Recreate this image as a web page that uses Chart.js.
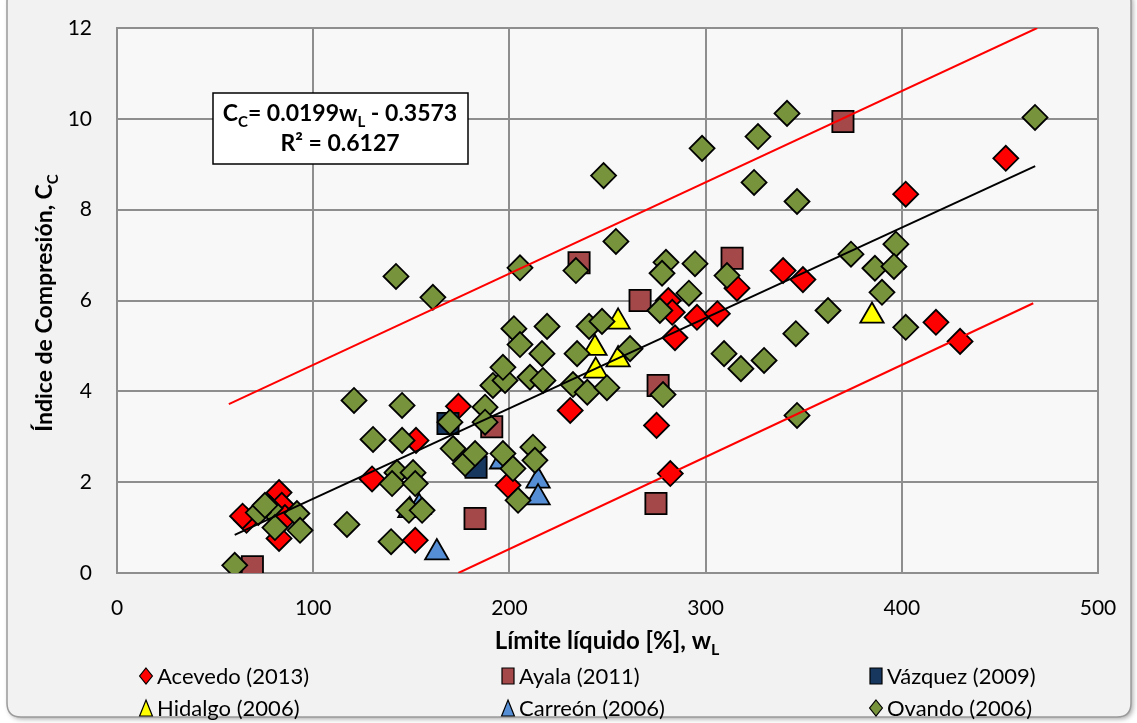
<!DOCTYPE html>
<html>
<head>
<meta charset="utf-8">
<script src="https://cdn.jsdelivr.net/npm/chart.js@4.4.1/dist/chart.umd.min.js"></script>
<style>
html,body{margin:0;padding:0;background:#ffffff;}
#wrap{width:1137px;height:723px;position:relative;}
</style>
</head>
<body>
<div id="wrap"><canvas id="c" width="1137" height="723"></canvas></div>
<script>
// ---------- DATA ----------
const xTicks = [0, 100, 200, 300, 400, 500];
const yTicks = [0, 2, 4, 6, 8, 10, 12];

const acevedoX = [66, 64, 82.6, 84, 85.6, 82.6, 130, 152.4, 152, 174, 199.3, 231, 275, 282, 281, 283, 284.4, 295.6, 306, 316, 339.5, 349.6, 402, 453, 417.4, 429.7];
const acevedoY = [1.16, 1.25, 1.77, 1.49, 1.22, 0.76, 2.07, 2.92, 0.72, 3.67, 1.93, 3.58, 3.25, 2.19, 6.0, 5.74, 5.18, 5.63, 5.71, 6.27, 6.66, 6.46, 8.34, 9.13, 5.52, 5.10];

const ayalaX = [69, 182.5, 191, 235.5, 266.6, 275.8, 274.7, 313.5, 370];
const ayalaY = [0.14, 1.2, 3.22, 6.83, 6.0, 4.13, 1.53, 6.93, 9.94];

const vazquezX = [168.7, 183];
const vazquezY = [3.29, 2.33];

const hidalgoX = [255.4, 243.6, 255.4, 244, 384.8];
const hidalgoY = [5.53, 4.95, 4.7, 4.45, 5.66];

const carreonX = [149.3, 154, 163, 196, 214.6, 214.6];
const carreonY = [1.38, 1.45, 0.45, 2.45, 2.03, 1.66];

const ovandoX = [60, 78, 72, 75.4, 80.5, 91.7, 93.3, 117.2, 120.8, 130.5, 142.2, 145.3, 145.3, 161, 142.7, 150.9, 140.2, 152, 139.7, 148.8, 155.5, 169.7, 171.3, 177.4, 182.5, 187.6, 187.6, 196.7, 201.8, 204.4, 212, 213, 191.6, 197.8, 196.7, 210.5, 217.1, 205.4, 233.9, 254.3, 248, 202.3, 219.2, 205.4, 216.6, 240.6, 247.2, 234.5, 261.5, 232.4, 239.7, 249.7, 279.8, 277.8, 294.6, 291.5, 276.7, 310.9, 346, 309.4, 318, 329.8, 278.3, 346.6, 341.5, 326.7, 298.2, 324.7, 346.6, 467.9, 374.1, 397, 386.3, 396, 389.9, 362.4, 402];
const ovandoY = [0.17, 1.42, 1.33, 1.49, 1.0, 1.31, 0.94, 1.07, 3.8, 2.94, 6.53, 3.69, 2.92, 6.07, 2.21, 2.21, 1.97, 1.97, 0.69, 1.38, 1.38, 3.32, 2.74, 2.41, 2.63, 3.65, 3.32, 2.63, 2.3, 1.6, 2.77, 2.48, 4.13, 4.24, 4.53, 4.31, 4.24, 6.72, 6.66, 7.3, 8.75, 5.38, 5.43, 5.03, 4.83, 5.43, 5.54, 4.83, 4.94, 4.15, 3.98, 4.08, 6.84, 6.6, 6.81, 6.16, 5.78, 6.55, 5.27, 4.83, 4.5, 4.68, 3.93, 3.47, 10.12, 9.61, 9.35, 8.6, 8.18, 10.03, 7.02, 7.24, 6.71, 6.75, 6.18, 5.78, 5.41];

// trend line and band (endpoints)
const trendX = [60, 468];
const trendY = [0.84, 8.96];
const upperX = [57, 469];
const upperY = [3.72, 12.0];
const lowerX = [174, 467];
const lowerY = [0.0, 5.94];

const seriesNames = ['Acevedo (2013)', 'Ayala (2011)', 'Vázquez (2009)', 'Hidalgo (2006)', 'Carreón (2006)', 'Ovando (2006)'];

const eqLine1 = ['C', 'C', '= 0.0199w', 'L', ' - 0.3573'];
const eqLine2 = 'R² = 0.6127';
const xTitle = ['Límite líquido [%], w', 'L'];
const yTitle = ['Índice de Compresión, C', 'C'];

// ---------- BUILD ----------
function pts(xs, ys) { return xs.map((x, i) => ({ x: x, y: ys[i] })); }

const FONT = 'Lato, "Open Sans", sans-serif';

const styles = [
  { style: 'rectRot', color: '#ff0000', r: 12.5 },
  { style: 'rect', color: '#a5484a', r: 15 },
  { style: 'rect', color: '#17375e', r: 15 },
  { style: 'triangle', color: '#ffff00', r: 13.5 },
  { style: 'triangle', color: '#558ed5', r: 13.5 },
  { style: 'rectRot', color: '#77933c', r: 12.5 }
];
const seriesData = [
  pts(acevedoX, acevedoY), pts(ayalaX, ayalaY), pts(vazquezX, vazquezY),
  pts(hidalgoX, hidalgoY), pts(carreonX, carreonY), pts(ovandoX, ovandoY)
];

const datasets = [];
function lineDs(xs, ys, color, w) {
  return { type: 'line', data: pts(xs, ys), borderColor: color, borderWidth: w, pointRadius: 0,
    fill: false, showLine: true, order: 0, tension: 0 };
}
datasets.push(lineDs(trendX, trendY, '#000000', 2));
datasets.push(lineDs(upperX, upperY, '#ff0000', 2));
datasets.push(lineDs(lowerX, lowerY, '#ff0000', 2));
seriesNames.forEach((name, i) => {
  datasets.push({
    label: name,
    data: seriesData[i],
    pointStyle: styles[i].style,
    pointRadius: styles[i].r,
    pointHoverRadius: styles[i].r,
    backgroundColor: styles[i].color,
    borderColor: '#000000',
    pointBorderWidth: 1.8,
    order: 6 - i
  });
});

function drawParts(ctx, parts, x, y, size, bold) {
  const nf = (bold ? 'bold ' : '') + size + 'px ' + FONT;
  const sf = (bold ? 'bold ' : '') + Math.round(size * 0.65) + 'px ' + FONT;
  let total = 0;
  parts.forEach((p, i) => { ctx.font = (i % 2 === 1) ? sf : nf; total += ctx.measureText(p).width; });
  let cx = x - total / 2;
  ctx.textBaseline = 'alphabetic';
  ctx.textAlign = 'left';
  parts.forEach((p, i) => {
    const sub = i % 2 === 1;
    ctx.font = sub ? sf : nf;
    ctx.fillText(p, cx, y + (sub ? size * 0.25 : 0));
    cx += ctx.measureText(p).width;
  });
}

function drawMarker(ctx, style, x, y, s, color) {
  ctx.save();
  ctx.fillStyle = color; ctx.strokeStyle = '#000'; ctx.lineWidth = 1.2;
  ctx.beginPath();
  if (style === 'rectRot') {
    ctx.moveTo(x, y - s); ctx.lineTo(x + s * 0.8, y); ctx.lineTo(x, y + s); ctx.lineTo(x - s * 0.8, y); ctx.closePath();
  } else if (style === 'rect') {
    ctx.rect(x - s * 0.75, y - s, s * 1.5, s * 2);
  } else {
    ctx.moveTo(x, y - s); ctx.lineTo(x + s * 0.8, y + s); ctx.lineTo(x - s * 0.8, y + s); ctx.closePath();
  }
  ctx.fill(); ctx.stroke();
  ctx.restore();
}

const decor = {
  id: 'decor',
  beforeDraw(chart) {
    const ctx = chart.ctx;
    ctx.save();
    ctx.fillStyle = '#ffffff';
    ctx.fillRect(0, 0, chart.width, chart.height);
    const x0 = 7, y0 = -12, x1 = 1131, y1 = 717, rr = 14;
    ctx.shadowColor = 'rgba(0,0,0,0.35)';
    ctx.shadowBlur = 5; ctx.shadowOffsetX = 2; ctx.shadowOffsetY = 2;
    ctx.beginPath();
    ctx.moveTo(x0 + rr, y0); ctx.lineTo(x1 - rr, y0); ctx.quadraticCurveTo(x1, y0, x1, y0 + rr);
    ctx.lineTo(x1, y1 - rr); ctx.quadraticCurveTo(x1, y1, x1 - rr, y1);
    ctx.lineTo(x0 + rr, y1); ctx.quadraticCurveTo(x0, y1, x0, y1 - rr);
    ctx.lineTo(x0, y0 + rr); ctx.quadraticCurveTo(x0, y0, x0 + rr, y0); ctx.closePath();
    ctx.fillStyle = '#f2f2f2';
    ctx.fill();
    ctx.shadowColor = 'transparent';
    ctx.strokeStyle = '#9a9a9a'; ctx.lineWidth = 1.5;
    ctx.stroke();
    const a = chart.chartArea;
    ctx.fillStyle = '#f8f8f8';
    ctx.fillRect(a.left, a.top, a.right - a.left, a.bottom - a.top);
    ctx.restore();
  },
  afterDraw(chart) {
    const ctx = chart.ctx;
    ctx.save();
    // equation box
    ctx.fillStyle = '#ffffff';
    ctx.fillRect(213, 93, 255, 71);
    ctx.strokeStyle = '#000'; ctx.lineWidth = 1.5;
    ctx.strokeRect(213, 93, 255, 71);
    ctx.fillStyle = '#000';
    drawParts(ctx, eqLine1, 340, 121, 23, true);
    ctx.font = 'bold 23px ' + FONT; ctx.textAlign = 'center';
    ctx.fillText(eqLine2, 340, 151);
    // x title
    drawParts(ctx, xTitle, 607, 649, 24, true);
    // y title
    ctx.save();
    ctx.translate(52, 303);
    ctx.rotate(-Math.PI / 2);
    drawParts(ctx, yTitle, 0, 0, 23, true);
    ctx.restore();
    // legend
    const colX = [146, 508, 876];
    const rowY = [676, 708];
    seriesNames.forEach((name, i) => {
      const cx = colX[i % 3], cy = rowY[Math.floor(i / 3)];
      drawMarker(ctx, styles[i].style, cx, cy, 8, styles[i].color);
      ctx.fillStyle = '#000';
      ctx.font = '22px ' + FONT; ctx.textAlign = 'left'; ctx.textBaseline = 'middle';
      ctx.fillText(name, cx + 11, cy + 1);
    });
    ctx.restore();
  }
};

new Chart(document.getElementById('c'), {
  type: 'scatter',
  data: { datasets: datasets },
  options: {
    responsive: false,
    animation: false,
    events: [],
    layout: { padding: { left: 0, top: 28, right: 39, bottom: 0 } },
    plugins: { legend: { display: false }, tooltip: { enabled: false } },
    scales: {
      x: {
        type: 'linear', min: 0, max: 500,
        afterFit(s) { s.height = 150; s.paddingLeft = 0; s.paddingRight = 0; },
        afterBuildTicks(s) { s.ticks = xTicks.map(v => ({ value: v })); },
        grid: { color: '#8e8e8e', lineWidth: 2, drawTicks: false },
        border: { display: true, color: '#8e8e8e', width: 2 },
        ticks: { padding: 23, color: '#000', font: { family: FONT, size: 21 } }
      },
      y: {
        type: 'linear', min: 0, max: 12,
        afterFit(s) { s.width = 117; s.paddingTop = 0; s.paddingBottom = 0; },
        afterBuildTicks(s) { s.ticks = yTicks.map(v => ({ value: v })); },
        grid: { color: '#8e8e8e', lineWidth: 2, drawTicks: false },
        border: { display: true, color: '#8e8e8e', width: 2 },
        ticks: { padding: 25, color: '#000', font: { family: FONT, size: 21 } }
      }
    }
  },
  plugins: [decor]
});
</script>
</body>
</html>
